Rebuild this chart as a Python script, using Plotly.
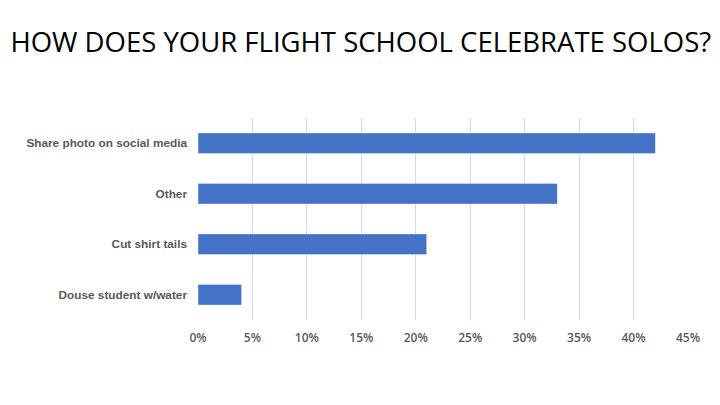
import plotly.graph_objects as go

# Survey answers, top to bottom as in the chart
answers = ['Share photo on social media', 'Other', 'Cut shirt tails', 'Douse student w/water']
shares = [42, 33, 21, 4]
tick_vals = [0, 5, 10, 15, 20, 25, 30, 35, 40, 45]
tick_text = ['0%', '5%', '10%', '15%', '20%', '25%', '30%', '35%', '40%', '45%']

data = [go.Bar(x=shares, y=answers, orientation='h', marker_color='#4472C4',
               width=0.41, hoverinfo='x+y')]

# the page body adds an 8px offset, so margins are shifted to compensate
layout = go.Layout(
    width=720, height=405,
    paper_bgcolor='white', plot_bgcolor='white',
    margin=dict(l=190, r=40, t=110, b=93),
    showlegend=False,
    title=dict(text='HOW DOES YOUR FLIGHT SCHOOL CELEBRATE SOLOS?',
               font=dict(family='Open Sans', size=27.5, color='black'),
               x=0.49, xanchor='center', xref='container',
               y=1 - 34 / 405, yanchor='middle', yref='container'),
    xaxis=dict(range=[0, 45], tickvals=tick_vals, ticktext=tick_text,
               showgrid=True, gridcolor='#d9d9d9', gridwidth=1,
               zeroline=False, showline=False, ticks='',
               ticklabelstandoff=9,
               tickfont=dict(family='Open Sans', size=12, color='#595959', weight=600)),
    yaxis=dict(autorange='reversed', showgrid=False, zeroline=False, showline=False,
               ticks='', ticklabelstandoff=10,
               tickfont=dict(family='Liberation Sans', size=11.8, color='#595959', weight='bold')),
)

fig = go.Figure(data=data, layout=layout)
fig.write_html('out.html')
